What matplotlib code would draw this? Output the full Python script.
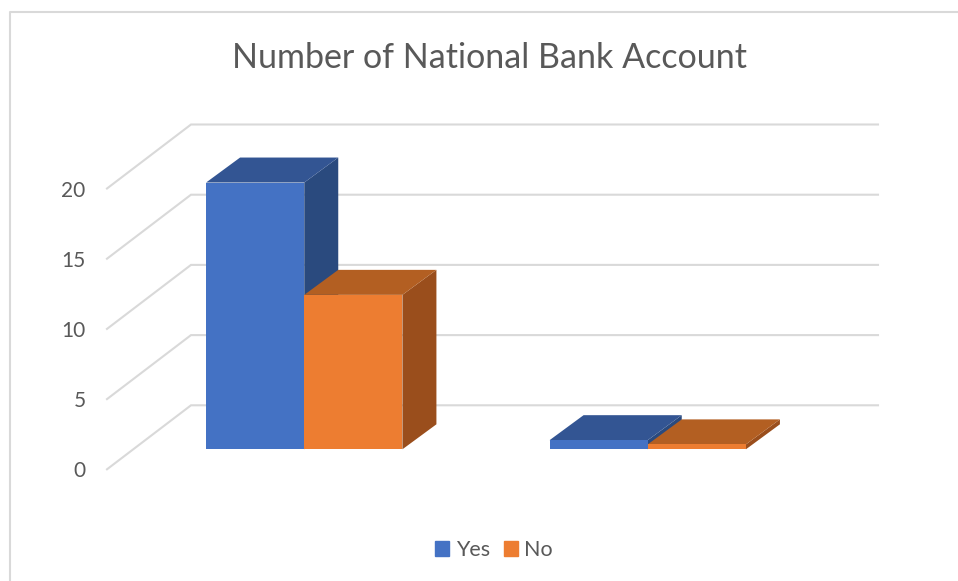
import matplotlib
matplotlib.use("Agg")
import matplotlib.pyplot as plt
from matplotlib.patches import Polygon, Patch

plt.rcParams['font.family'] = ['Lato', 'DejaVu Sans']

# values
categories = [0, 1]
yes_vals = [19, 0.65]
no_vals = [11, 0.35]
ticks = [0, 5, 10, 15, 20]

W, H = 958, 581
TEXT = '#595959'
GRID = '#D9D9D9'
BLUE = ('#4472C4', '#335593', '#2A4A7E')
ORANGE = ('#ED7D31', '#B35F22', '#9A4E1C')
BAR_W = 0.2858

fig = plt.figure(figsize=(W / 100, H / 100), dpi=100, facecolor='white')
ax = fig.add_axes([132.5 / W, (H - 449.3) / H, 687 / W, 280.8 / H])
ax.set_xlim(-0.5, 1.5)
ax.set_ylim(0, 20)
ax.axis('off')

# pixel offsets to data units for the oblique depth
px_x = 2 / 687
px_y = 20 / 280.8


def depth(dx, dy):
    return dx * px_x, dy * px_y


def bar3d(x0, w, h, cols, z):
    ddx, ddy = depth(34, 25)
    ax.bar(x0, h, w, align='edge', color=cols[0], zorder=z + 0.2, clip_on=False)
    ax.add_patch(Polygon([(x0, h), (x0 + w, h), (x0 + w + ddx, h + ddy), (x0 + ddx, h + ddy)],
                         fc=cols[1], ec='none', zorder=z + 0.1, clip_on=False))
    ax.add_patch(Polygon([(x0 + w, 0), (x0 + w + ddx, ddy), (x0 + w + ddx, h + ddy), (x0 + w, h)],
                         fc=cols[2], ec='none', zorder=z, clip_on=False))


# gridlines run along the side wall and then the back wall
fx, fy = depth(-25.5, -20)
bx, by = depth(58.5, 44)
for t in ticks:
    ax.plot([-0.5 + fx, -0.5 + bx, 1.5 + bx], [t + fy, t + by, t + by], color=GRID, lw=1.5,
            zorder=1, clip_on=False, solid_joinstyle='miter')
    ax.annotate(str(t), xy=(-0.5 + fx, t + fy), xytext=(-15.5, -1.5), textcoords='offset points',
                ha='right', va='center', fontsize=15, color=TEXT, annotation_clip=False)

for i, c in enumerate(categories):
    bar3d(c - BAR_W, BAR_W, yes_vals[i], BLUE, 2)
    bar3d(c, BAR_W, no_vals[i], ORANGE, 3)

fig.text(490 / W, 1 - 57.5 / H, 'Number of National Bank Account', ha='center', va='center',
         fontsize=24.5, color=TEXT)

# outer frame, open on the right and bottom
fig.add_artist(plt.Line2D([10 / W, 10 / W, 1], [0, 1 - 12 / H, 1 - 12 / H], color=GRID, lw=1.5))

fig.legend(handles=[Patch(color=BLUE[0], label='Yes'), Patch(color=ORANGE[0], label='No')],
           ncol=2, frameon=False, loc='center', bbox_to_anchor=(494 / W, 1 - 550 / H),
           fontsize=15.5, labelcolor=TEXT, handlelength=0.65, handleheight=0.65,
           handletextpad=0.3, columnspacing=0.65)

fig.savefig('out.png', dpi=100)
